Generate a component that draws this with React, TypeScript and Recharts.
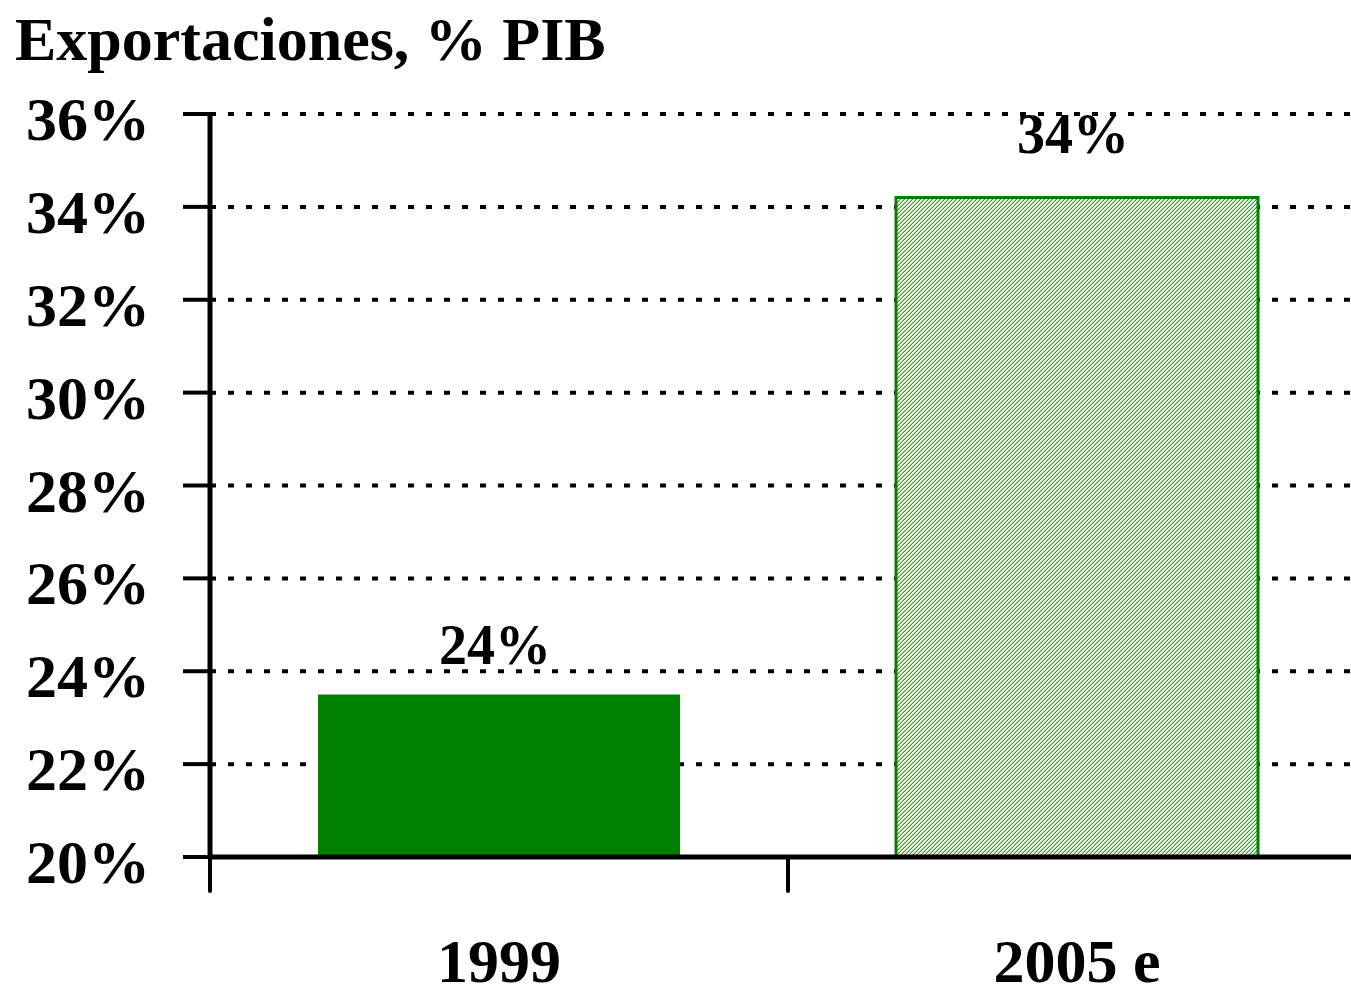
import React from "react";
import { BarChart, Bar, XAxis, YAxis, CartesianGrid, Cell, LabelList } from "recharts";

const categories = ["1999", "2005 e"];
const exportShare = [0.235, 0.342];
const labelTexts = ["24%", "34%"];
const yTicks = [0.2, 0.22, 0.24, 0.26, 0.28, 0.3, 0.32, 0.34, 0.36];

const data = categories.map((c, i) => ({ name: c, value: exportShare[i], label: labelTexts[i] }));

const FONT = "'Liberation Serif', 'Times New Roman', serif";
const labelOffsets = [30, 45];

const CatTick = (props: any) => {
  const { x, y, payload } = props;
  const half = payload && payload.offset ? payload.offset : 0;
  return (
    <g>
      <line x1={x - half} x2={x - half} y1={y - 8} y2={y + 26} stroke="#000" strokeWidth={4} strokeLinecap="round" />
      <text x={x} y={y + 117} textAnchor="middle" fontFamily={FONT} fontWeight="bold" fontSize={62} fill="#000">
        {payload.value}
      </text>
    </g>
  );
};

const ValueLabel = (props: any) => {
  const { x, y, width, value, index } = props;
  return (
    <text x={x + width / 2 - 4} y={y - labelOffsets[index]} textAnchor="middle" fontFamily={FONT} fontWeight="bold" fontSize={56} fill="#000">
      {value}
    </text>
  );
};

export default function App() {
  return (
    <div style={{ position: "fixed", left: 0, top: 0, width: 1351, height: 998, overflow: "hidden", background: "#fff" }}>
      <div style={{ position: "absolute", left: 15, top: 5, fontFamily: FONT, fontWeight: "bold", fontSize: 62, lineHeight: "68px", color: "#000", whiteSpace: "nowrap" }}>
        Exportaciones, % PIB
      </div>
      <BarChart width={1370} height={998} data={data} margin={{ top: 114, right: 4, left: 0, bottom: 0 }} barSize={362}>
        <defs>
          <pattern id="hatch" patternUnits="userSpaceOnUse" width="4" height="4">
            <rect x="0" y="0" width="4" height="4" fill="#ffffff" />
            <rect x="0" y="3" width="1" height="1" fill="#2ea42e" />
            <rect x="1" y="2" width="1" height="1" fill="#2ea42e" />
            <rect x="2" y="1" width="1" height="1" fill="#2ea42e" />
            <rect x="3" y="0" width="1" height="1" fill="#2ea42e" />
            <rect x="0" y="2" width="1" height="1" fill="#8fd08f" />
            <rect x="1" y="1" width="1" height="1" fill="#8fd08f" />
            <rect x="2" y="0" width="1" height="1" fill="#8fd08f" />
            <rect x="3" y="3" width="1" height="1" fill="#8fd08f" />
          </pattern>
        </defs>
        <CartesianGrid vertical={false} stroke="#000" strokeWidth={4} strokeDasharray="6 12" />
        <XAxis
          dataKey="name"
          height={141}
          axisLine={{ stroke: "#000", strokeWidth: 5 }}
          tickLine={false}
          tick={<CatTick />}
          interval={0}
        />
        <YAxis
          domain={[0.2, 0.36]}
          ticks={yTicks}
          width={210}
          allowDataOverflow
          axisLine={{ stroke: "#000", strokeWidth: 5 }}
          tickLine={{ stroke: "#000", strokeWidth: 4 }}
          tickSize={27}
          tickMargin={33}
          tickFormatter={(v: number) => `${Math.round(v * 100)}%`}
          tick={{ fontFamily: FONT, fontWeight: "bold", fontSize: 62, fill: "#000", dy: 4 }}
        />
        <Bar dataKey="value" isAnimationActive={false}>
          {data.map((d, i) => (
            <Cell key={d.name} fill={i === 0 ? "#008000" : "url(#hatch)"} stroke={i === 0 ? "none" : "#008000"} strokeWidth={i === 0 ? 0 : 3} />
          ))}
          <LabelList dataKey="label" content={<ValueLabel />} />
        </Bar>
      </BarChart>
    </div>
  );
}
